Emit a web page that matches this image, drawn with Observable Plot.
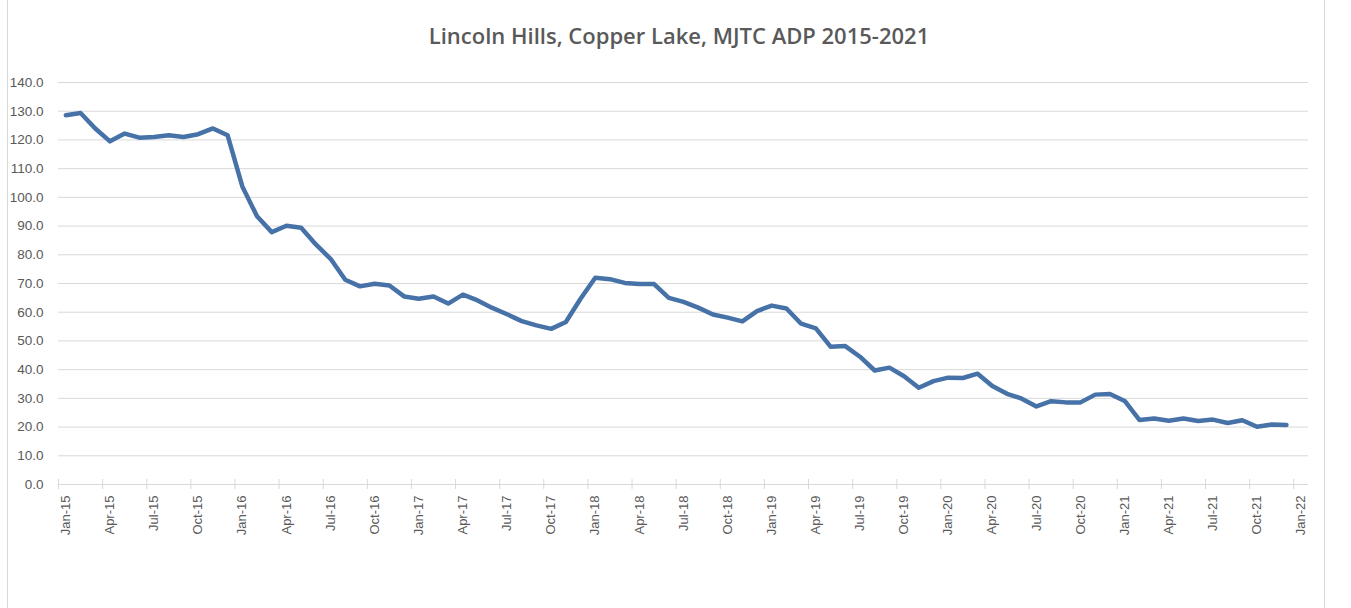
<!DOCTYPE html>
<html>
<head>
<meta charset="utf-8">
<script src="https://cdn.jsdelivr.net/npm/d3@7"></script>
<script src="https://cdn.jsdelivr.net/npm/@observablehq/plot@0.6"></script>
<style>
  html, body { margin: 0; padding: 0; background: #fff; }
  #wrap { position: relative; width: 1351px; height: 608px; overflow: hidden; background: #fff; }
  #frame { position: absolute; left: 7px; top: -2px; width: 1318px; height: 640px; border: 1px solid #d9d9d9; box-sizing: border-box; }
  #title { position: absolute; left: 0; width: 1358px; top: 20px; text-align: center;
           font-family: "Open Sans", sans-serif; font-weight: 600; font-size: 22px; color: #595959; }
  #chart { position: absolute; left: 0; top: 60px; }
  #chart svg { overflow: visible; }
</style>
</head>
<body>
<div id="wrap">
  <div id="frame"></div>
  <div id="title">Lincoln Hills, Copper Lake, MJTC ADP 2015-2021</div>
  <div id="chart"></div>
</div>
<script>
// Monthly ADP, Jan-15 .. Dec-21 (index 0 = Jan-15)
const values = [
  128.6, 129.4, 124.0, 119.5, 122.2, 120.8, 121.0, 121.6, 121.0, 122.0, 124.0, 121.6,
  103.8, 93.4, 87.9, 90.1, 89.4, 83.6, 78.6, 71.3, 69.0, 69.9, 69.3, 65.5,
  64.7, 65.5, 63.0, 66.1, 64.1, 61.5, 59.3, 56.9, 55.4, 54.2, 56.6, 64.7,
  72.0, 71.5, 70.2, 69.8, 69.8, 65.0, 63.6, 61.6, 59.2, 58.1, 56.8, 60.4,
  62.3, 61.3, 56.0, 54.4, 48.0, 48.2, 44.5, 39.7, 40.7, 37.7, 33.7, 36.0,
  37.2, 37.1, 38.6, 34.3, 31.6, 29.9, 27.2, 29.0, 28.6, 28.6, 31.3, 31.5,
  29.1, 22.5, 23.0, 22.2, 23.0, 22.1, 22.6, 21.4, 22.4, 20.1, 20.9, 20.7
];
const tickLabels = [
  "Jan-15","Apr-15","Jul-15","Oct-15","Jan-16","Apr-16","Jul-16","Oct-16",
  "Jan-17","Apr-17","Jul-17","Oct-17","Jan-18","Apr-18","Jul-18","Oct-18",
  "Jan-19","Apr-19","Jul-19","Oct-19","Jan-20","Apr-20","Jul-20","Oct-20",
  "Jan-21","Apr-21","Jul-21","Oct-21","Jan-22"
];
const yTicks = [0, 10, 20, 30, 40, 50, 60, 70, 80, 90, 100, 110, 120, 130, 140];

const data = values.map((v, i) => ({month: i, adp: v}));
const labelPos = tickLabels.map((_, k) => k * 3);        // category centres
const tickPos = tickLabels.map((_, k) => k * 3 - 0.5);   // category boundaries

const gray = "#595959";
const grid = "#d9d9d9";

const chart = Plot.plot({
  width: 1351,
  height: 548,
  marginTop: 22,
  marginBottom: 124,
  marginLeft: 58,
  marginRight: 43,
  style: {fontFamily: "'Liberation Sans', Arial, sans-serif", fontSize: "13px", color: gray, background: "transparent"},
  x: {domain: [-0.5, 84.5], axis: null, label: null},
  y: {domain: [0, 140], axis: null, label: null},
  marks: [
    Plot.gridY(yTicks, {stroke: grid, strokeOpacity: 1, strokeWidth: 1}),
    Plot.axisY(yTicks, {tickSize: 0, tickPadding: 15, tickFormat: d => d.toFixed(1), fill: gray, fontSize: 13.5, label: null}),
    Plot.ruleX(tickPos, {x: d => d, y1: 0, y2: 0, insetTop: -5, insetBottom: -5, stroke: grid, strokeWidth: 1}),
    Plot.axisX(labelPos, {anchor: "bottom", tickSize: 0, tickPadding: 11, tickRotate: -90,
      tickFormat: d => tickLabels[d / 3], fill: gray, fontSize: 13, label: null}),
    Plot.line(data, {x: "month", y: "adp", stroke: "#4672a8", strokeWidth: 4.5,
      strokeLinejoin: "round", strokeLinecap: "round"})
  ]
});
document.getElementById("chart").appendChild(chart);
</script>
</body>
</html>
